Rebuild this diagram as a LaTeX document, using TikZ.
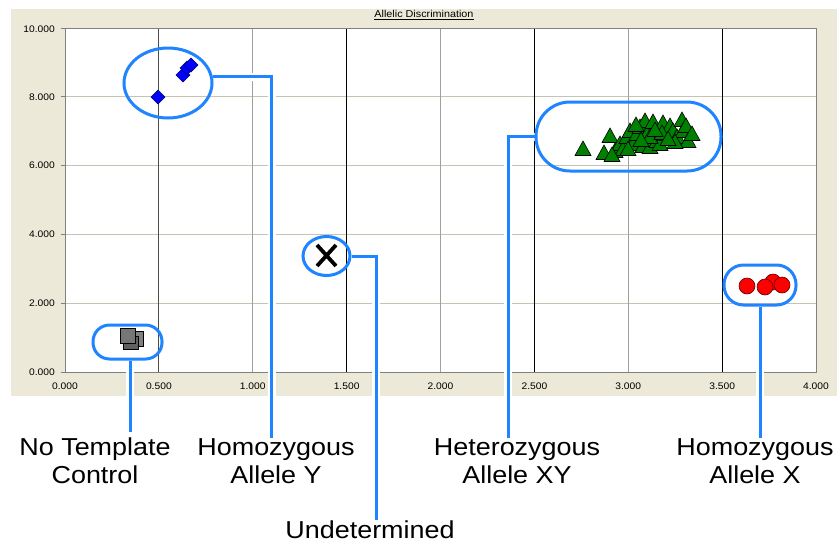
\documentclass[tikz,border=0pt]{standalone}
\usepackage{fontspec}
\setmainfont{Liberation Sans}
\newfontfamily\lblfont[FakeStretch=1.1]{Liberation Sans}
\newfontfamily\axfont[FakeStretch=1.08]{Liberation Sans}
\usetikzlibrary{shapes.geometric}
\definecolor{cblue}{RGB}{30,132,255}
\definecolor{beige}{RGB}{236,233,216}
\definecolor{hgrid}{RGB}{200,194,180}
\definecolor{vgrid}{RGB}{160,160,160}
\definecolor{mkgreen}{RGB}{0,128,0}
\pgfdeclarelayer{back}
\pgfdeclarelayer{conn}
\pgfsetlayers{back,conn,main}
\tikzset{
  ring/.style={draw=cblue, line width=3pt, inner sep=0pt},
  conn/.style={draw=cblue, line width=3pt, preaction={draw=white, line width=8pt}},
  lbl/.style={font=\lblfont\fontsize{24.5}{28}\selectfont, align=center, inner sep=0pt, anchor=north},
  axlbl/.style={font=\axfont\fontsize{9.5}{11}\selectfont, inner sep=0pt},
  tri/.style={fill=mkgreen, draw=black, line width=0.6pt},
  dia/.style={fill=blue, draw={rgb,255:red,0;green,0;blue,120}, line width=0.6pt},
  dot/.style={fill=red, draw={rgb,255:red,90;green,0;blue,0}, line width=0.6pt},
  sq/.style={draw=black, line width=0.6pt}
}
\begin{document}
\begin{tikzpicture}[x=1pt,y=-1pt]
\useasboundingbox (0,0) rectangle (837,544);
\begin{pgfonlayer}{back}
  \fill[white] (0,0) rectangle (837,544);
  \fill[beige] (11,9) rectangle (837,396);
  \fill[white] (65,28) rectangle (816,372);
  % horizontal grid
  \foreach \v in {2,4,6,8} \draw[hgrid, line width=1pt] (65,372-34.4*\v) -- (816,372-34.4*\v);
  % vertical grid
  \foreach \v in {1,2,3} \draw[vgrid, line width=1pt] (65+187.75*\v,28) -- (65+187.75*\v,372);
  \draw[gray!60!black, line width=1pt] (65+187.75*0.5,28) -- (65+187.75*0.5,372);
  \foreach \v in {1.5,2.5,3.5} \draw[black, line width=1pt] (65+187.75*\v,28) -- (65+187.75*\v,372);
  \draw[gray, line width=1pt] (65,28) rectangle (816,372);
  \foreach \v in {0,2,4,6,8,10} \draw[gray, line width=0.8pt] (61,372-34.4*\v) -- (65,372-34.4*\v);
  % axis labels
  \node[axlbl, anchor=east] at (55,372) {0.000};
  \node[axlbl, anchor=east] at (55,303.2) {2.000};
  \node[axlbl, anchor=east] at (55,234.4) {4.000};
  \node[axlbl, anchor=east] at (55,165.6) {6.000};
  \node[axlbl, anchor=east] at (55,96.8) {8.000};
  \node[axlbl, anchor=east] at (55,29) {10.000};
  \foreach \v/\t in {0/0.000,0.5/0.500,1/1.000,1.5/1.500,2/2.000,2.5/2.500,3/3.000,3.5/3.500,4/4.000}
    \node[axlbl] at (65+187.75*\v,386) {\t};
  \node[axlbl, font=\axfont\fontsize{10}{12}\selectfont] at (424,15) {\underline{Allelic Discrimination}};
  % markers: no template control
  \draw[sq, fill={rgb,255:red,128;green,128;blue,128}] (127,331) rectangle (143,346);
  \draw[sq, fill={rgb,255:red,96;green,96;blue,96}] (123,336) rectangle (138,349);
  \draw[sq, fill={rgb,255:red,118;green,118;blue,118}] (120,328) rectangle (135,343);
  % homozygous Y diamonds
  \foreach \x/\y in {158/97,183/75,187/68,191/65}
    \draw[dia] (\x,\y-7) -- (\x+7,\y) -- (\x,\y+7) -- (\x-7,\y) -- cycle;
  % undetermined X
  \draw[black, line width=3.8pt] (317,245) -- (336,266) (336,245) -- (317,266);
  % heterozygous triangles
  \foreach \x/\y in {583/150,610/137,604/154,615/152,620/145,623/150,627/138,630/132,633/145,637/135,640/128,643/147,645/122,647/135,650/148,653/123,657/142,660/145,663/124,667/135,670/127,673/132,677/138,682/121,683/132,688/142,686/127,650/138,636/126,662/134,675/143,655/131,692/135,628/150,641/141,668/140,612/156}
    \draw[tri] (\x,\y-9) -- (\x+8,\y+5.5) -- (\x-8,\y+5.5) -- cycle;
  % homozygous X dots
  \foreach \x/\y in {773/282,747/286,765/287,782/285}
    \draw[dot] (\x,\y) circle[radius=8];
\end{pgfonlayer}
% cluster rings
\node[ring, rectangle, rounded corners=16.5pt, minimum width=69pt, minimum height=34pt] (ntc) at (127.5,342) {};
\node[ring, ellipse, minimum width=88pt, minimum height=70pt] (hy) at (168,83) {};
\node[ring, ellipse, minimum width=47pt, minimum height=39pt] (und) at (326.5,256) {};
\node[ring, rectangle, rounded corners=34pt, minimum width=185pt, minimum height=69pt] (het) at (628.5,136.5) {};
\node[ring, rectangle, rounded corners=19.5pt, minimum width=72pt, minimum height=40pt] (hx) at (760,285) {};
% labels
\node[lbl] (lntc) at (95,438) {No Template\\Control};
\node[lbl] (lhy) at (276,438) {Homozygous\\Allele Y};
\node[lbl] (lund) at (370,520.5) {Undetermined};
\node[lbl] (lhet) at (517,438) {Heterozygous\\Allele XY};
\node[lbl] (lhx) at (755,438) {Homozygous\\Allele X};
% connectors
\begin{pgfonlayer}{conn}
  \draw[conn, shorten >=6pt] ([xshift=2.5pt]ntc.south) -- ([xshift=2.5pt]ntc.south |- lntc.north);
  \draw[conn] (hy.8) -| ([xshift=-4.5pt]lhy.north);
  \draw[conn, shorten >=1pt] (und.east) -| ([xshift=6pt]lund.north);
  \draw[conn] (het.west) -| ([xshift=-9pt]lhet.north);
  \draw[conn] (hx.south) -- (hx.south |- lhx.north);
\end{pgfonlayer}
\end{tikzpicture}
\end{document}
